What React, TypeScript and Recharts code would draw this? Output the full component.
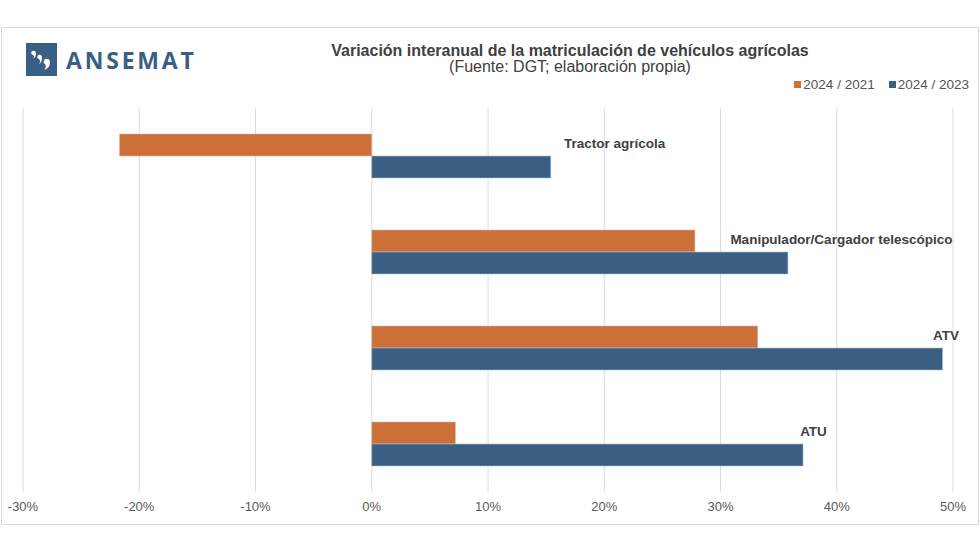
import { BarChart, Bar, XAxis, YAxis, CartesianGrid, LabelList } from 'recharts'

const categories = ['Tractor agrícola', 'Manipulador/Cargador telescópico', 'ATV', 'ATU']
const vs2021 = [-21.7, 27.8, 33.2, 7.2]
const vs2023 = [15.4, 35.8, 49.1, 37.1]
// where each category name sits along the x axis (in %)
const labelAt = [20.9, 40.4, 49.4, 38.0]
const seriesNames = ['2024 / 2021', '2024 / 2023']
const ticks = [-30, -20, -10, 0, 10, 20, 30, 40, 50]

const ORANGE = '#cd6f38'
const BLUE = '#3b5f80'
const FONT = '"Liberation Sans", Arial, Helvetica, sans-serif'

const data = categories.map((name, i) => ({
  name,
  a: vs2021[i],
  b: vs2023[i],
}))

// category name drawn over the bar pair, placed with the bar's own scale
const CategoryLabel = (props: any) => {
  const { x, y, width, height, value, index } = props
  const perUnit = width / value
  const cx = x + labelAt[index] * perUnit
  return (
    <text
      x={cx}
      y={y - height / 2 - 2}
      textAnchor="middle"
      dominantBaseline="central"
      fontFamily={FONT}
      fontSize={13.5}
      fontWeight="bold"
      fill="#404040"
    >
      {categories[index]}
    </text>
  )
}

function Logo() {
  return (
    <div style={{ position: 'absolute', left: 26, top: 43, display: 'flex', alignItems: 'center' }}>
      <svg width={31} height={33}>
        <rect width={31} height={33} fill="#3a5f85" />
        <path d="M6 8 q4 -1 4 3 q0 3 -3 5 q2 -3 0 -4 q-3 -1 -1 -4z" fill="#fff" />
        <path d="M12 12 q4 -1 4 3 q0 4 -3 6 q2 -3 0 -5 q-3 -1 -1 -4z" fill="#fff" />
        <path d="M19 16 q5 -1 5 4 q0 5 -6 7 q3 -3 1 -6 q-3 -1 0 -5z" fill="#fff" />
      </svg>
      <span
        style={{
          marginLeft: 9,
          fontFamily: '"Open Sans", ' + FONT,
          fontWeight: 700,
          fontSize: 23,
          letterSpacing: 2.8,
          color: '#3a5f85',
        }}
      >
        ANSEMAT
      </span>
    </div>
  )
}

export default function App() {
  return (
    <div
      style={{
        position: 'absolute',
        left: 0,
        top: 0,
        width: 980,
        height: 553,
        background: '#fff',
        fontFamily: FONT,
      }}
    >
      <div
        style={{
          position: 'absolute',
          left: 1,
          top: 27,
          width: 976,
          height: 496,
          border: '1px solid #d9d9d9',
        }}
      />
      <Logo />
      <div
        style={{
          position: 'absolute',
          left: 0,
          width: 1140,
          top: 43,
          textAlign: 'center',
          color: '#404040',
          lineHeight: '16px',
        }}
      >
        <div style={{ fontSize: 16, fontWeight: 'bold' }}>
          Variación interanual de la matriculación de vehículos agrícolas
        </div>
        <div style={{ fontSize: 16 }}>(Fuente: DGT; elaboración propia)</div>
      </div>
      <div
        style={{
          position: 'absolute',
          right: 11,
          top: 77,
          display: 'flex',
          fontSize: 13.5,
          color: '#555',
        }}
      >
        {seriesNames.map((s, i) => (
          <div key={s} style={{ display: 'flex', alignItems: 'center', marginLeft: 14 }}>
            <span
              style={{
                width: 7,
                height: 7,
                background: i === 0 ? ORANGE : BLUE,
                marginRight: 2,
              }}
            />
            {s}
          </div>
        ))}
      </div>
      <div style={{ position: 'absolute', left: 0, top: 0 }}>
        <BarChart
          width={980}
          height={553}
          data={data}
          layout="vertical"
          margin={{ top: 108, right: 27, bottom: 31, left: 23 }}
          barGap={0}
          barSize={22}
        >
          <CartesianGrid horizontal={false} stroke="#dcdcdc" />
          <XAxis
            type="number"
            domain={[-30, 50]}
            ticks={ticks}
            axisLine={false}
            tickLine={false}
            tickSize={0}
            tickMargin={10}
            height={30}
            interval={0}
            tickFormatter={(v) => `${v}%`}
            tick={{ fontSize: 13, fill: '#595959', fontFamily: FONT }}
          />
          <YAxis type="category" dataKey="name" hide />
          <Bar dataKey="a" fill={ORANGE} stroke="#e8b89a" strokeWidth={0.6} isAnimationActive={false} />
          <Bar dataKey="b" fill={BLUE} stroke="#a9bccd" strokeWidth={0.6} isAnimationActive={false}>
            <LabelList dataKey="b" content={CategoryLabel} />
          </Bar>
        </BarChart>
      </div>
    </div>
  )
}
